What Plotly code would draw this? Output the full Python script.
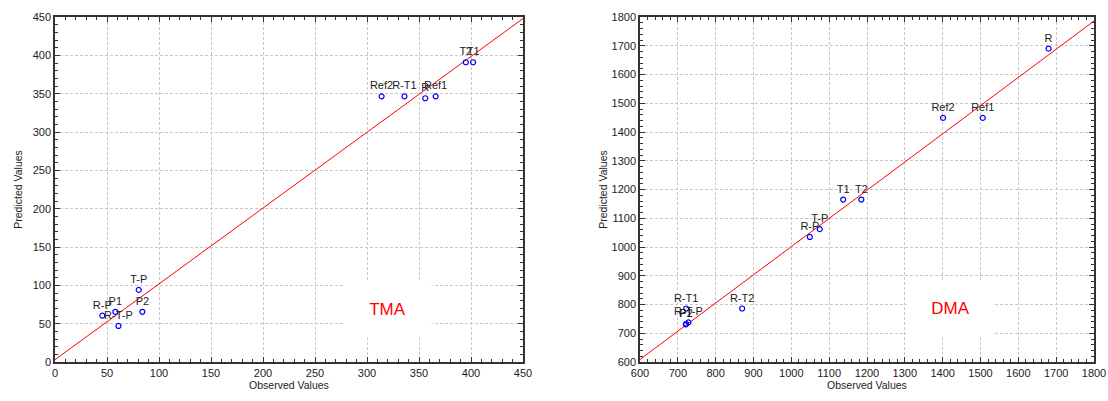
import plotly.graph_objects as go
from plotly.subplots import make_subplots

# ---- TMA data ----
tma_labels = ["Ref2", "R-T1", "R", "Ref1", "T2", "T1", "T-P", "P1", "R-P", "P2", "R-T-P"]
tma_obs = [314, 336, 356, 366, 395, 402, 80.5, 58, 45.5, 84, 61]
tma_pred = [346.5, 346.5, 344, 346.5, 391, 391, 94, 65.5, 60.5, 65.5, 47]
tma_fit_x = [0, 450]
tma_fit_y = [3, 448]

# ---- DMA data ----
dma_labels = ["R", "Ref2", "Ref1", "T1", "T2", "T-P", "R-P", "R-T1", "R-T2", "P1", "P2", "R-T-P"]
dma_obs = [1680, 1401, 1506, 1137, 1185, 1075, 1049, 722, 870, 721, 722, 728]
dma_pred = [1690, 1449, 1449, 1165, 1165, 1062, 1035, 786, 786, 731, 732, 738]
dma_fit_x = [600, 1800]
dma_fit_y = [609, 1786]

FONT = "Liberation Sans, Arial, sans-serif"
W, H = 1108, 401
OFF = 0  # body margin removed by post_script below


def dx(px):
    return (px - OFF) / W


def dy(py):
    return 1 - (py - OFF) / H


fig = make_subplots(rows=1, cols=2)


def add_panel(col, obs, pred, labels, fx, fy):
    fig.add_trace(go.Scatter(x=fx, y=fy, mode="lines",
                             line=dict(color="#ff0000", width=1),
                             showlegend=False, hoverinfo="skip"), row=1, col=col)
    fig.add_trace(go.Scatter(x=obs, y=pred, mode="markers+text", text=labels,
                             textposition="top center",
                             textfont=dict(family=FONT, size=11, color="#222222"),
                             marker=dict(symbol="circle-open", size=5, color="#0000ff",
                                         line=dict(width=1.2, color="#0000ff")),
                             showlegend=False), row=1, col=col)


add_panel(1, tma_obs, tma_pred, tma_labels, tma_fit_x, tma_fit_y)
add_panel(2, dma_obs, dma_pred, dma_labels, dma_fit_x, dma_fit_y)

axis_common = dict(
    showline=True, linecolor="#333333", linewidth=1.5, mirror="allticks",
    ticks="inside", ticklen=5, tickcolor="#333333", tickwidth=1,
    showgrid=True, gridcolor="#c8c8c8", gridwidth=1, griddash="3px,2px",
    zeroline=False, automargin=False,
    tickfont=dict(family=FONT, size=11, color="#222222"),
    title_font=dict(family=FONT, size=10.5, color="#222222"),
)

fig.update_xaxes(axis_common)
fig.update_yaxes(axis_common)

minor_l = dict(dtick=10, ticks="inside", ticklen=3, tickcolor="#333333", showgrid=False)
minor_r = dict(dtick=20, ticks="inside", ticklen=3, tickcolor="#333333", showgrid=False)

fig.update_xaxes(range=[0, 450], dtick=50, tick0=0, minor=minor_l,
                 domain=[dx(55), dx(523)],
                 title_text="Observed Values", title_standoff=4, row=1, col=1)
fig.update_yaxes(range=[0, 450], dtick=50, tick0=0, minor=minor_l,
                 title_text="Predicted Values", title_standoff=8, row=1, col=1)
fig.update_xaxes(range=[600, 1800], dtick=100, tick0=600, minor=minor_r,
                 domain=[dx(640), dx(1094)],
                 title_text="Observed Values", title_standoff=4, row=1, col=2)
fig.update_yaxes(range=[600, 1800], dtick=100, tick0=600, minor=minor_r,
                 title_text="Predicted Values", title_standoff=2, row=1, col=2)

fig.update_yaxes(domain=[dy(362), dy(17)])

fig.add_annotation(x=319.7, y=68, xref="x", yref="y", text="TMA", showarrow=False,
                   font=dict(family=FONT, size=17, color="#ff0000"),
                   bgcolor="#ffffff", width=85, height=53)
fig.add_annotation(x=1419.5, y=785.6, xref="x2", yref="y2", text="DMA", showarrow=False,
                   font=dict(family=FONT, size=17, color="#ff0000"),
                   bgcolor="#ffffff", width=85, height=53)

fig.update_layout(width=W, height=H, margin=dict(l=0, r=0, t=0, b=0, autoexpand=False),
                  plot_bgcolor="#ffffff", paper_bgcolor="#ffffff",
                  font=dict(family=FONT))

fig.write_html("out.html", config={"displayModeBar": False},
               post_script="document.body.style.margin='0';document.body.style.overflow='hidden';")
